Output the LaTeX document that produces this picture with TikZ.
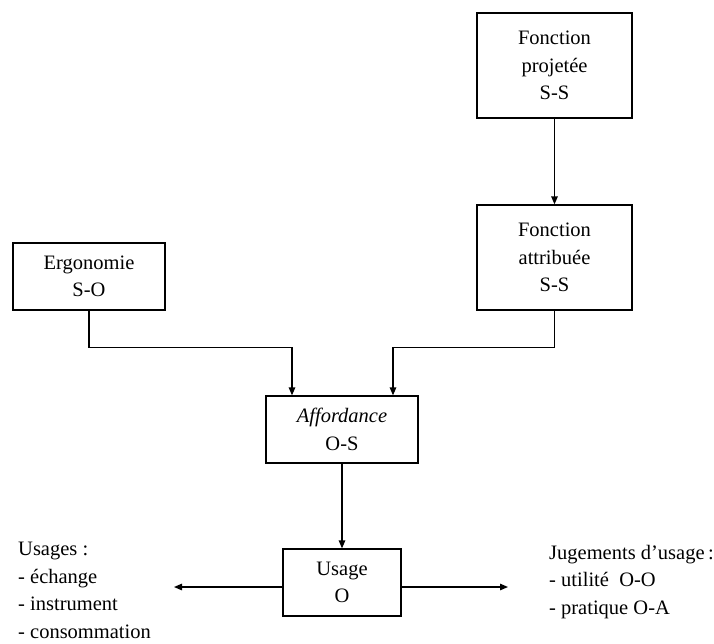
\documentclass[tikz,border=0pt]{standalone}
\usepackage{fontspec}
\setmainfont{Liberation Serif}
\usetikzlibrary{arrows.meta}
\begin{document}
\begin{tikzpicture}[x=1pt,y=-1pt,
  box/.style={draw,line width=1.3pt,align=center,inner sep=0pt,
    font=\fontsize{20.5}{27.5}\selectfont},
  lbl/.style={align=left,inner sep=0pt,font=\fontsize{20.5}{27.5}\selectfont},
  conn/.style={line width=1.3pt,-{Triangle[length=8pt,width=6.5pt]}}]
\useasboundingbox (0,0) rectangle (714,643);
\node[box,minimum width=155pt,minimum height=105pt] (proj) at (554.5,65.5) {Fonction\\projetée\\S-S};
\node[box,minimum width=155pt,minimum height=105pt] (attr) at (554.5,257.5) {Fonction\\attribuée\\S-S};
\node[box,minimum width=152pt,minimum height=67pt] (ergo) at (89,276.5) {Ergonomie\\S-O};
\node[box,minimum width=152pt,minimum height=67pt] (aff) at (342,429.5) {\textit{Affordance}\\O-S};
\node[box,minimum width=118pt,minimum height=67pt] (usage) at (342,582.5) {Usage\\O};
\coordinate (uL) at (174,587);
\coordinate (uR) at (508,587);
\node[lbl,anchor=north west] (usages) at (18,542) {Usages :\\- échange\\- instrument\\- consommation};
\node[lbl,anchor=north west] (juge) at (549,545) {Jugements d’usage\,:\\- utilité\ \ O-O\\- pratique O-A};
\draw[conn] (proj.south) -- (attr.north);
\draw[conn] (ergo.south) -- ++(0,37) -| ([xshift=-50pt]aff.north);
\draw[conn] (attr.south) -- ++(0,37) -| ([xshift=51pt]aff.north);
\draw[conn] (aff.south) -- (usage.north);
\draw[conn] ([yshift=-4.5pt]usage.west) -- (uL);
\draw[conn] ([yshift=-4.5pt]usage.east) -- (uR);
\end{tikzpicture}
\end{document}
